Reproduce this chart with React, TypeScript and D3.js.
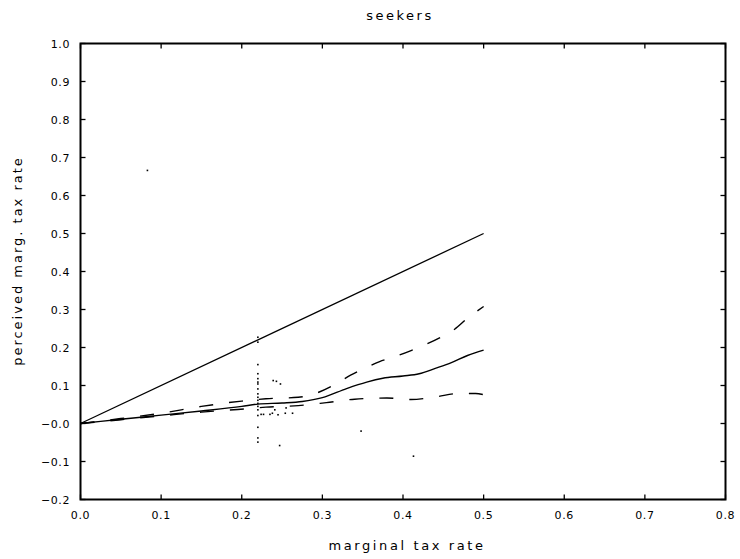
import React from "react";
import * as d3 from "d3";

const xTicks = [0, 0.1, 0.2, 0.3, 0.4, 0.5, 0.6, 0.7, 0.8];
const yTicks = [-0.2, -0.1, 0, 0.1, 0.2, 0.3, 0.4, 0.5, 0.6, 0.7, 0.8, 0.9, 1.0];
const yTickLabels = ["−0.2", "−0.1", "−0.0", "0.1", "0.2", "0.3", "0.4", "0.5", "0.6", "0.7", "0.8", "0.9", "1.0"];

const diagX = [0, 0.5];
const diagY = [0, 0.5];

const fitX = [0, 0.05, 0.1, 0.15, 0.2, 0.22, 0.25, 0.275, 0.3, 0.33, 0.355, 0.375, 0.4, 0.42, 0.44, 0.46, 0.48, 0.5];
const fitY = [0, 0.011, 0.022, 0.033, 0.045, 0.051, 0.054, 0.058, 0.068, 0.092, 0.109, 0.119, 0.125, 0.131, 0.145, 0.16, 0.179, 0.193];

const upX = [0, 0.05, 0.1, 0.15, 0.2, 0.23, 0.27, 0.29, 0.315, 0.335, 0.353, 0.371, 0.39, 0.41, 0.427, 0.446, 0.464, 0.48, 0.5];
const upY = [0, 0.013, 0.027, 0.045, 0.059, 0.065, 0.069, 0.078, 0.102, 0.127, 0.146, 0.163, 0.176, 0.192, 0.207, 0.226, 0.248, 0.277, 0.308];

const loX = [0, 0.05, 0.1, 0.15, 0.195, 0.23, 0.27, 0.305, 0.34, 0.38, 0.41, 0.44, 0.47, 0.49, 0.5];
const loY = [0, 0.01, 0.02, 0.03, 0.037, 0.043, 0.047, 0.055, 0.064, 0.067, 0.063, 0.07, 0.079, 0.079, 0.076];

const ptX = [0.22, 0.22, 0.22, 0.22, 0.22, 0.22, 0.22, 0.22, 0.22, 0.22, 0.22, 0.22, 0.22, 0.22, 0.22, 0.22, 0.22, 0.22,
  0.239, 0.243, 0.248, 0.224, 0.227, 0.235, 0.238, 0.241, 0.245, 0.254, 0.255, 0.263, 0.247, 0.348, 0.413, 0.083];
const ptY = [0.227, 0.214, 0.155, 0.131, 0.118, 0.109, 0.104, 0.091, 0.078, 0.069, 0.061, 0.053, 0.045, 0.036, 0.021, -0.01, -0.038, -0.049,
  0.113, 0.111, 0.104, 0.024, 0.024, 0.024, 0.027, 0.036, 0.023, 0.027, 0.041, 0.027, -0.058, -0.02, -0.086, 0.666];

const W = 740, H = 559;
const x = d3.scaleLinear().domain([0, 0.8]).range([80.5, 725.5]);
const y = d3.scaleLinear().domain([-0.2, 1.0]).range([499.5, 43.5]);

function pathOf(xs: number[], ys: number[], smooth: boolean) {
  const line = d3.line<number>()
    .x((_, i) => x(xs[i]))
    .y((_, i) => y(ys[i]))
    .curve(smooth ? d3.curveMonotoneX : d3.curveLinear);
  return line(xs) || "";
}

const font = "'DejaVu Sans', sans-serif";

export default function App() {
  const x0 = x(0), x1 = x(0.8), y0 = y(-0.2), y1 = y(1.0);
  const tl = 5;
  return (
    <svg width={W} height={H} style={{ position: "absolute", left: 0, top: 0, background: "#fff" }}>
      <text x={400} y={20} textAnchor="middle" fontFamily={font} fontSize={13} letterSpacing={2.5} fill="#000">seekers</text>
      <rect x={x0} y={y1} width={x1 - x0} height={y0 - y1} fill="none" stroke="#000" strokeWidth={2} />
      {xTicks.map((t, i) => (
        <g key={"xt" + i}>
          <line x1={x(t)} x2={x(t)} y1={y0} y2={y0 - tl} stroke="#000" strokeWidth={1.3} />
          <line x1={x(t)} x2={x(t)} y1={y1} y2={y1 + tl} stroke="#000" strokeWidth={1.3} />
          <text x={x(t)} y={519} textAnchor="middle" fontFamily={font} fontSize={11} letterSpacing={0.6} fill="#000">{t.toFixed(1)}</text>
        </g>
      ))}
      {yTicks.map((t, i) => (
        <g key={"yt" + i}>
          <line x1={x0} x2={x0 + tl} y1={y(t)} y2={y(t)} stroke="#000" strokeWidth={1.3} />
          <line x1={x1} x2={x1 - tl} y1={y(t)} y2={y(t)} stroke="#000" strokeWidth={1.3} />
          <text x={70} y={y(t) + 4} textAnchor="end" fontFamily={font} fontSize={11} letterSpacing={0.6} fill="#000">{yTickLabels[i]}</text>
        </g>
      ))}
      <text x={407} y={550} textAnchor="middle" fontFamily={font} fontSize={13} letterSpacing={2.6} fill="#000">marginal tax rate</text>
      <text transform="translate(22,261) rotate(-90)" textAnchor="middle" fontFamily={font} fontSize={13} letterSpacing={2} fill="#000">perceived marg. tax rate</text>
      <path d={pathOf(diagX, diagY, false)} fill="none" stroke="#000" strokeWidth={1.3} />
      <path d={pathOf(fitX, fitY, true)} fill="none" stroke="#000" strokeWidth={1.4} />
      <path d={pathOf(upX, upY, true)} fill="none" stroke="#000" strokeWidth={1.4} strokeDasharray="14 16" />
      <path d={pathOf(loX, loY, true)} fill="none" stroke="#000" strokeWidth={1.4} strokeDasharray="14 16" />
      {ptX.map((px, i) => (
        <rect key={"p" + i} x={x(px) - 0.8} y={y(ptY[i]) - 0.8} width={1.6} height={1.6} fill="#000" />
      ))}
    </svg>
  );
}
